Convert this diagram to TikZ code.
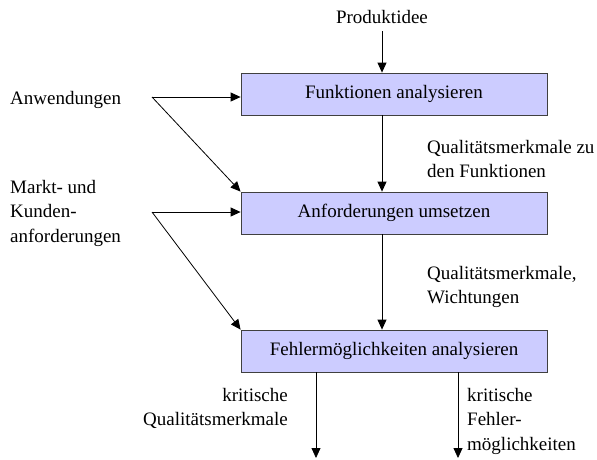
\documentclass[tikz,border=0pt]{standalone}
\usepackage{fontspec}
\setmainfont{Liberation Serif}
\usetikzlibrary{arrows.meta,shadows}
\definecolor{boxfill}{RGB}{204,204,255}
\begin{document}
\begin{tikzpicture}[x=1pt,y=-1pt,
  font=\fontsize{19}{24.5}\selectfont,
  stepbox/.style={draw=black!75, line width=0.8pt, fill=boxfill,
    minimum width=306pt, minimum height=42pt, inner sep=0pt,
    general shadow={fill=black!60, shadow xshift=1.2pt, shadow yshift=-1.2pt}},
  lbl/.style={inner sep=0pt, align=left},
  arr/.style={-{Triangle[length=10pt,width=9pt]}, line width=0.8pt}]
\useasboundingbox (0,0) rectangle (597,459);

% process steps
\node[stepbox] (fa) at (394,94)  {Funktionen analysieren};
\node[stepbox] (au) at (394,213) {Anforderungen umsetzen};
\node[stepbox] (fm) at (394,351) {Fehlermöglichkeiten analysieren};

% inputs
\node[inner sep=0pt, anchor=base] (idee) at (382,23) {Produktidee};
\node[inner sep=0pt, anchor=base west] (anw) at (10,104) {Anwendungen};
\node[lbl, anchor=north west] (markt) at (10,180) {Markt- und\\Kunden-\\anforderungen};

% flow labels
\node[lbl, anchor=north west] (q1) at (427,140) {Qualitätsmerkmale zu\\den Funktionen};
\node[lbl, anchor=north west] (q2) at (427,266) {Qualitätsmerkmale,\\Wichtungen};
\node[lbl, align=right, anchor=north east] (kq) at (288,388) {kritische\\Qualitätsmerkmale};
\node[lbl, anchor=north west] (kf) at (467,388) {kritische\\Fehler-\\möglichkeiten};

% branching points and outputs
\coordinate (col) at (382,0);
\coordinate (anwpt) at (152,97);
\coordinate (marktpt) at (152,212);
\coordinate (out1) at (316,458);
\coordinate (out2) at (458,458);

% main flow
\draw[arr, shorten <=8pt] (idee.south) -- (idee.south |- fa.north);
\draw[arr] (fa.south -| col) -- (au.north -| col);
\draw[arr] (au.south -| col) -- (fm.north -| col);

% side inputs
\draw[arr] (anwpt) -- (anwpt -| fa.west);
\draw[arr] (anwpt) -- (au.north west);
\draw[arr] (marktpt) -- (marktpt -| au.west);
\draw[arr] (marktpt) -- (fm.north west);

% outputs
\draw[arr] (fm.south -| out1) -- (out1);
\draw[arr] (fm.south -| out2) -- (out2);
\end{tikzpicture}
\end{document}
